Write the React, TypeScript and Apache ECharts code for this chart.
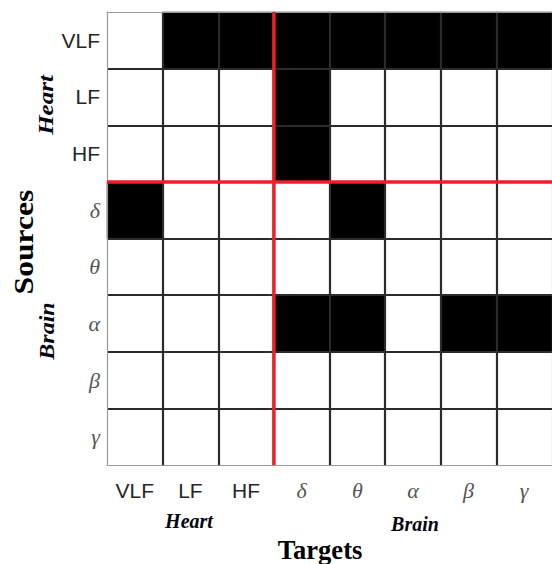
import React, { useEffect, useRef } from "react";
import * as echarts from "echarts";

// Frequency bands: heart (VLF, LF, HF) followed by brain (δ, θ, α, β, γ)
const targets = ["VLF", "LF", "HF", "δ", "θ", "α", "β", "γ"];
const sources = ["VLF", "LF", "HF", "δ", "θ", "α", "β", "γ"];
const greekBands = ["δ", "θ", "α", "β", "γ"];
const heartBandCount = 3;

// 1 = significant coupling from source (row) to target (column)
const rowVLF = [0, 1, 1, 1, 1, 1, 1, 1];
const rowLF = [0, 0, 0, 1, 0, 0, 0, 0];
const rowHF = [0, 0, 0, 1, 0, 0, 0, 0];
const rowDelta = [1, 0, 0, 0, 1, 0, 0, 0];
const rowTheta = [0, 0, 0, 0, 0, 0, 0, 0];
const rowAlpha = [0, 0, 0, 1, 1, 0, 1, 1];
const rowBeta = [0, 0, 0, 0, 0, 0, 0, 0];
const rowGamma = [0, 0, 0, 0, 0, 0, 0, 0];
const couplingRows = [rowVLF, rowLF, rowHF, rowDelta, rowTheta, rowAlpha, rowBeta, rowGamma];

const AXIS_GRAY = "#9a9a9a";
const GRID_DARK = "#2b2b2b";
const DIVIDER_RED = "#e8212b";

const labelRich = {
  s: { fontFamily: "Liberation Sans, Arial, sans-serif", fontSize: 21, color: "#262626", lineHeight: 24 },
  g: { fontFamily: "Liberation Serif, Times New Roman, serif", fontStyle: "italic", fontSize: 22, color: "#555555", lineHeight: 24 },
};
const formatBand = (v: string) => (greekBands.includes(v) ? `{g|${v}}` : `{s|${v}}`);

export default function App() {
  const ref = useRef<HTMLDivElement>(null);

  useEffect(() => {
    if (!ref.current) return;
    const chart = echarts.init(ref.current, null, { renderer: "svg" });

    const cells: number[][] = [];
    couplingRows.forEach((row, r) => row.forEach((v, c) => cells.push([c, r, v])));

    const titleFont = '"Liberation Serif", "Times New Roman", serif';

    // Red cross separating heart bands from brain bands, placed on the
    // band edge just before the first brain band.
    const renderDivider = (params: any, api: any) => {
      const rect = params.coordSys;
      const first = api.value(0);
      const center = api.coord([first, first]);
      const size = api.size([1, 1]);
      const bx = center[0] - size[0] / 2;
      const by = center[1] - size[1] / 2;
      const style = { stroke: DIVIDER_RED, lineWidth: 3.5 };
      return {
        type: "group",
        children: [
          { type: "line", shape: { x1: bx, y1: rect.y, x2: bx, y2: rect.y + rect.height }, style },
          { type: "line", shape: { x1: rect.x, y1: by, x2: rect.x + rect.width, y2: by }, style },
        ],
      };
    };

    chart.setOption({
      animation: false,
      backgroundColor: "#ffffff",
      grid: { left: 107, top: 12, width: 447, height: 453 },
      visualMap: {
        type: "piecewise",
        show: false,
        dimension: 2,
        seriesIndex: 0,
        pieces: [
          { value: 0, color: "#ffffff" },
          { value: 1, color: "#000000" },
        ],
      },
      xAxis: [
        {
          type: "category",
          data: targets,
          position: "bottom",
          z: 3,
          axisLine: { lineStyle: { color: AXIS_GRAY, width: 1.2 } },
          axisTick: { inside: true, alignWithLabel: true, length: 4, lineStyle: { color: AXIS_GRAY } },
          axisLabel: { formatter: formatBand, rich: labelRich, margin: 13 },
          splitLine: {
            show: true,
            showMinLine: false,
            showMaxLine: false,
            lineStyle: { color: GRID_DARK, width: 2.2 },
          },
        },
        {
          type: "category",
          data: targets,
          position: "top",
          z: 3,
          axisLine: { lineStyle: { color: AXIS_GRAY, width: 1.2 } },
          axisTick: { inside: true, alignWithLabel: true, length: 4, lineStyle: { color: AXIS_GRAY } },
          axisLabel: { show: false },
          splitLine: { show: false },
        },
      ],
      yAxis: [
        {
          type: "category",
          data: sources,
          inverse: true,
          position: "left",
          z: 3,
          axisLine: { lineStyle: { color: AXIS_GRAY, width: 1.2 } },
          axisTick: { inside: true, alignWithLabel: true, length: 4, lineStyle: { color: AXIS_GRAY } },
          axisLabel: { formatter: formatBand, rich: labelRich, margin: 7 },
          splitLine: {
            show: true,
            showMinLine: false,
            showMaxLine: false,
            lineStyle: { color: GRID_DARK, width: 2.2 },
          },
        },
        {
          type: "category",
          data: sources,
          inverse: true,
          position: "right",
          z: 3,
          axisLine: { lineStyle: { color: AXIS_GRAY, width: 1.2 } },
          axisTick: { inside: true, alignWithLabel: true, length: 4, lineStyle: { color: AXIS_GRAY } },
          axisLabel: { show: false },
          splitLine: { show: false },
        },
      ],
      series: [
        {
          type: "heatmap",
          xAxisIndex: 0,
          yAxisIndex: 0,
          data: cells,
          emphasis: { disabled: true },
          z: 2,
        },
        {
          type: "custom",
          xAxisIndex: 0,
          yAxisIndex: 0,
          data: [[heartBandCount]],
          renderItem: renderDivider,
          silent: true,
          clip: false,
          z: 10,
        },
      ],
      graphic: [
        {
          type: "text",
          x: 320,
          y: 550,
          scaleX: 0.95,
          style: { text: "Targets", font: `bold 28px ${titleFont}`, fill: "#000", align: "center", verticalAlign: "middle" },
        },
        {
          type: "text",
          x: 23,
          y: 242,
          rotation: Math.PI / 2,
          scaleX: 1.13,
          style: { text: "Sources", font: `bold 28px ${titleFont}`, fill: "#000", align: "center", verticalAlign: "middle" },
        },
        {
          type: "text",
          x: 189,
          y: 521,
          style: { text: "Heart", font: `italic bold 20px ${titleFont}`, fill: "#05050f", align: "center", verticalAlign: "middle" },
        },
        {
          type: "text",
          x: 415,
          y: 524,
          style: { text: "Brain", font: `italic bold 20px ${titleFont}`, fill: "#05050f", align: "center", verticalAlign: "middle" },
        },
        {
          type: "text",
          x: 46,
          y: 105,
          rotation: Math.PI / 2,
          scaleX: 1.25,
          style: { text: "Heart", font: `italic bold 20px ${titleFont}`, fill: "#05050f", align: "center", verticalAlign: "middle" },
        },
        {
          type: "text",
          x: 47,
          y: 331,
          rotation: Math.PI / 2,
          scaleX: 1.2,
          style: { text: "Brain", font: `italic bold 20px ${titleFont}`, fill: "#05050f", align: "center", verticalAlign: "middle" },
        },
      ],
    });

    return () => chart.dispose();
  }, []);

  return (
    <div
      ref={ref}
      style={{ position: "fixed", left: 0, top: 0, width: 552, height: 564, background: "#fff" }}
    />
  );
}
